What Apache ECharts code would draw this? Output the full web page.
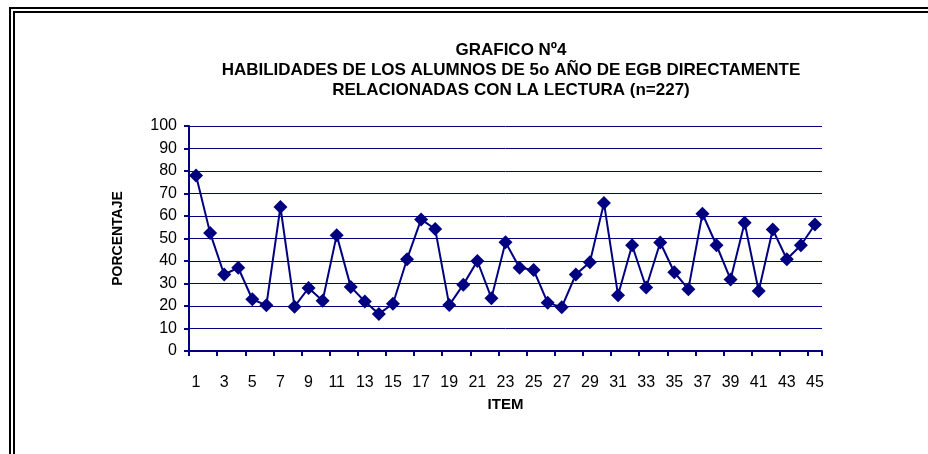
<!DOCTYPE html>
<html>
<head>
<meta charset="utf-8">
<script src="https://cdn.jsdelivr.net/npm/echarts@6/dist/echarts.min.js"></script>
<style>
  html, body { margin: 0; padding: 0; background: #fff; }
  #chart { width: 928px; height: 454px; }
</style>
</head>
<body>
<div id="chart"></div>
<script>
// item numbers 1..45
var items = [];
for (var i = 1; i <= 45; i++) items.push(String(i));

// porcentaje por item
var porcentaje = [
  78, 52.5, 34, 37, 23, 20.3, 64, 19.7, 28, 22.3,
  51.5, 28.5, 22, 16.5, 21, 40.8, 58.5, 54.2, 20.4, 29.5,
  40, 23.5, 48.3, 37, 36, 21.4, 19.5, 34, 39.5, 65.8,
  24.8, 47, 28.2, 48.2, 35, 27.5, 61, 47, 31.8, 57,
  26.7, 54, 40.8, 47, 56.2
];

var yTicks = [0, 10, 20, 30, 40, 50, 60, 70, 80, 90, 100];

var navy = "#000080";
var font = "'Liberation Sans', Arial, sans-serif";

var myChart = echarts.init(document.getElementById("chart"));
myChart.setOption({
  animation: false,
  title: {
    text: "GRAFICO Nº4\nHABILIDADES DE LOS ALUMNOS DE 5o AÑO DE EGB DIRECTAMENTE\nRELACIONADAS CON LA LECTURA (n=227)",
    left: 506,
    top: 35,
    textAlign: "center",
    textStyle: {
      fontFamily: font,
      fontSize: 17,
      fontWeight: "bold",
      color: "#000",
      lineHeight: 20
    }
  },
  grid: { left: 189, right: 106, top: 126, bottom: 103 },
  xAxis: {
    type: "category",
    data: items,
    boundaryGap: true,
    name: "ITEM",
    nameLocation: "middle",
    nameGap: 46,
    nameTextStyle: { fontFamily: font, fontSize: 15, fontWeight: "bold", color: "#000" },
    axisLine: { lineStyle: { color: navy, width: 2 } },
    axisTick: { show: true, inside: false, length: 5, lineStyle: { color: navy, width: 2 } },
    axisLabel: { interval: 1, fontFamily: font, fontSize: 16, color: "#000", margin: 24 }
  },
  yAxis: {
    type: "value",
    min: yTicks[0],
    max: yTicks[yTicks.length - 1],
    interval: 10,
    name: "PORCENTAJE",
    nameLocation: "middle",
    nameGap: 64,
    nameTextStyle: { fontFamily: font, fontSize: 14, fontWeight: "bold", color: "#000" },
    axisLine: { show: true, lineStyle: { color: navy, width: 2 } },
    axisTick: { show: true, length: 5, lineStyle: { color: navy, width: 2 } },
    axisLabel: { fontFamily: font, fontSize: 16, color: "#000", margin: 12 },
    splitLine: { show: true, lineStyle: { color: navy, width: 1 } }
  },
  series: [
    {
      type: "line",
      data: porcentaje,
      symbol: "diamond",
      symbolSize: 14,
      showAllSymbol: true,
      lineStyle: { color: navy, width: 2 },
      itemStyle: { color: navy }
    }
  ],
  graphic: [
    { type: "line", shape: { x1: 10, y1: 8, x2: 10, y2: 454 }, style: { stroke: "#000", lineWidth: 2 } },
    { type: "line", shape: { x1: 14, y1: 12, x2: 14, y2: 454 }, style: { stroke: "#000", lineWidth: 2 } },
    { type: "line", shape: { x1: 9, y1: 8, x2: 928, y2: 8 }, style: { stroke: "#000", lineWidth: 2 } },
    { type: "line", shape: { x1: 13, y1: 12, x2: 928, y2: 12 }, style: { stroke: "#000", lineWidth: 2 } }
  ]
});
</script>
</body>
</html>
